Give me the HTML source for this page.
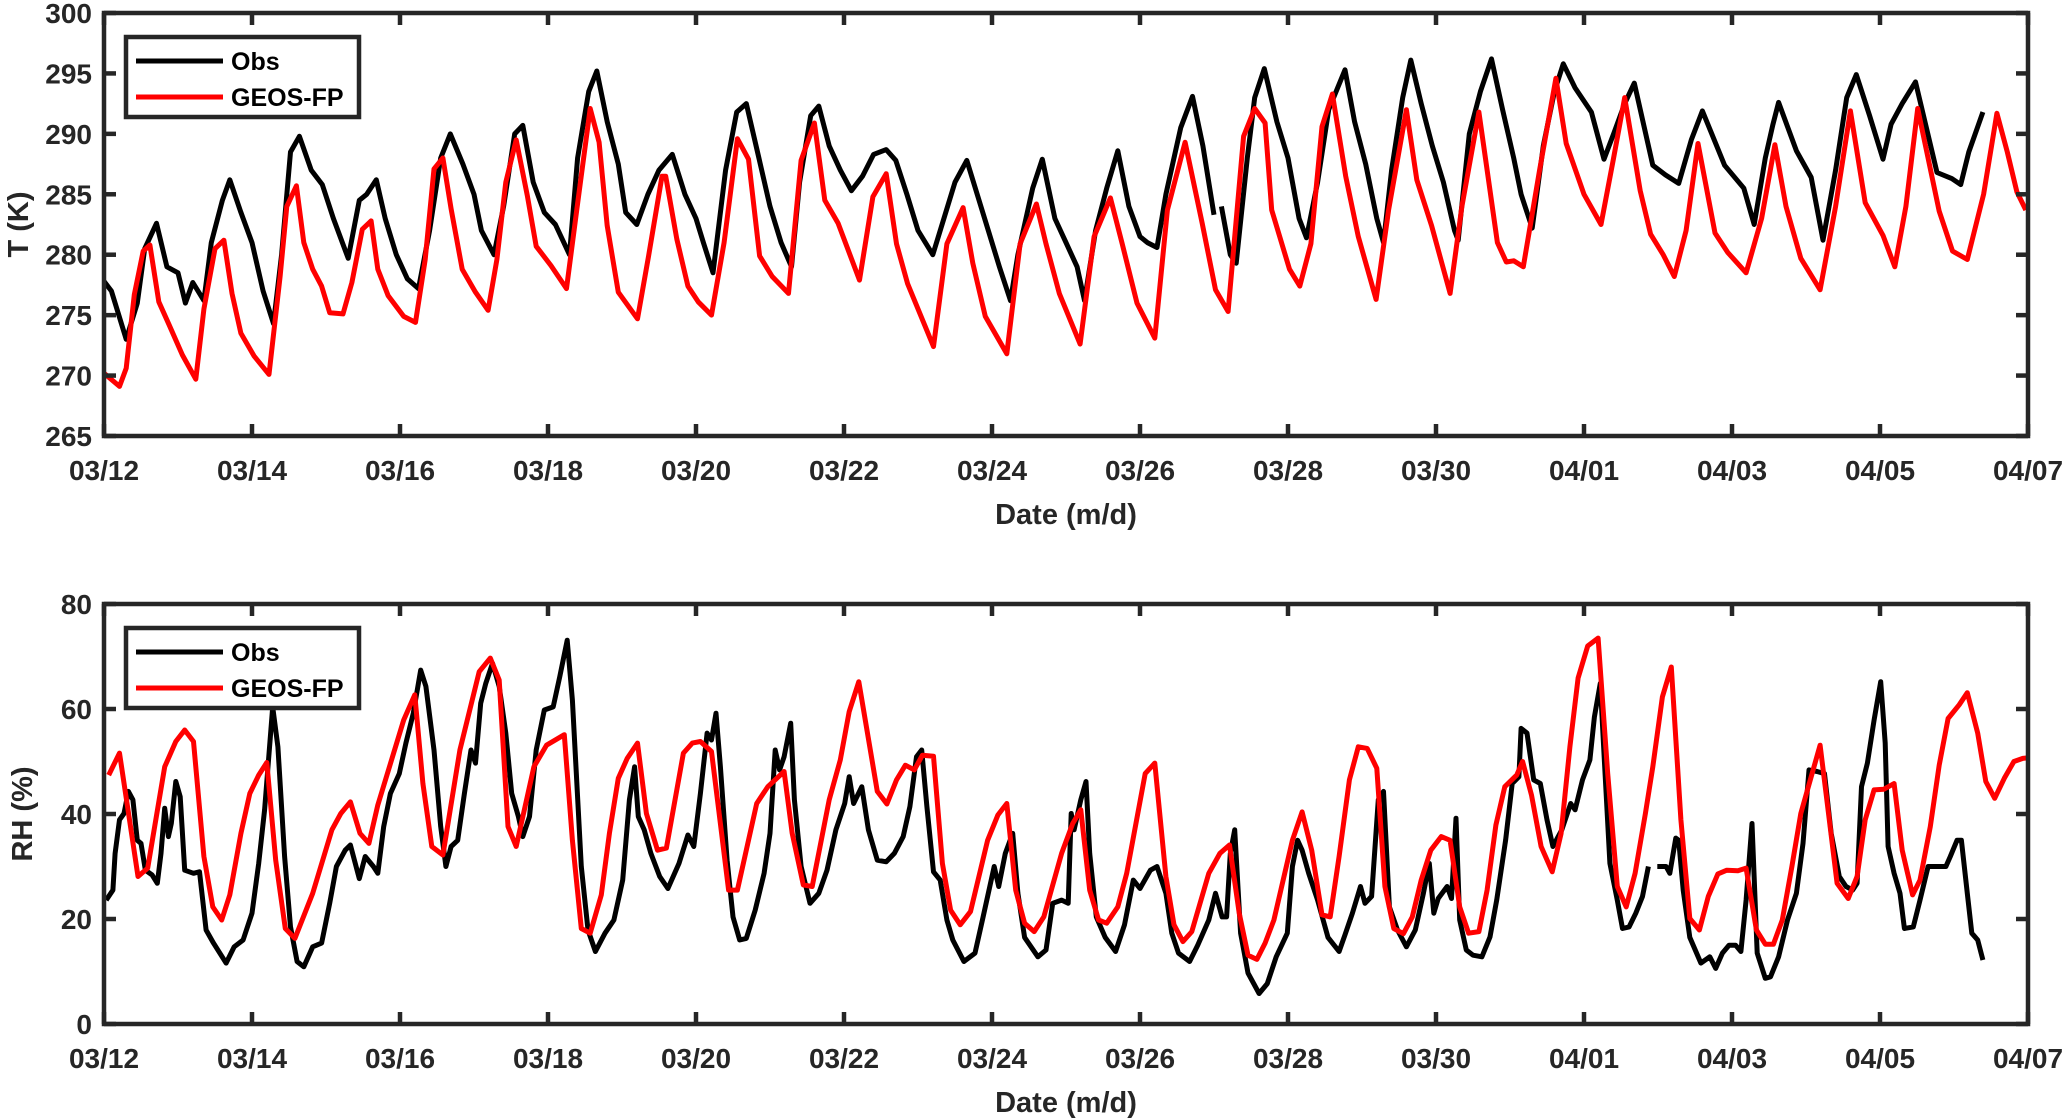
<!DOCTYPE html>
<html><head><meta charset="utf-8"><style>
html,body{margin:0;padding:0;background:#fff;}
svg{display:block;font-family:"Liberation Sans",Arial,sans-serif;font-weight:bold;}
</style></head><body>
<svg id="fig" width="2067" height="1120" viewBox="0 0 2067 1120" xmlns="http://www.w3.org/2000/svg"></svg>
<script>
const dateTicks=["03/12","03/14","03/16","03/18","03/20","03/22","03/24","03/26","03/28","03/30","04/01","04/03","04/05","04/07"];
const tTicks=[265,270,275,280,285,290,295,300];
const rhTicks=[0,20,40,60,80];

const obsTDays=[0,0.1,0.2,0.3,0.45,0.55,0.71,0.85,1.0,1.1,1.2,1.35,1.45,1.6,1.7,1.85,2.0,2.15,2.29,2.4,2.52,2.64,2.8,2.95,3.1,3.3,3.45,3.55,3.68,3.8,3.95,4.1,4.25,4.4,4.55,4.68,4.85,5.0,5.1,5.27,5.4,5.55,5.66,5.8,5.95,6.1,6.29,6.4,6.55,6.66,6.8,6.95,7.05,7.2,7.35,7.5,7.68,7.85,8.0,8.1,8.23,8.4,8.55,8.68,8.85,9.0,9.15,9.29,9.4,9.55,9.66,9.8,9.95,10.1,10.25,10.4,10.57,10.7,10.85,11.0,11.2,11.35,11.5,11.66,11.8,11.95,12.1,12.25,12.35,12.55,12.68,12.85,13.0,13.15,13.25,13.4,13.55,13.7,13.85,14.0,14.1,14.23,14.35,14.55,14.71,14.85,15.0,15.05,15.1,15.22,15.3,15.45,15.55,15.68,15.85,16.0,16.15,16.25,16.4,16.55,16.77,16.9,17.05,17.2,17.29,17.4,17.55,17.66,17.8,17.95,18.1,18.25,18.3,18.45,18.6,18.75,18.9,19.05,19.15,19.3,19.45,19.6,19.72,19.88,20.1,20.27,20.4,20.55,20.68,20.93,21.1,21.28,21.45,21.6,21.9,22.16,22.3,22.45,22.55,22.63,22.87,23.07,23.23,23.4,23.55,23.68,23.86,24.04,24.15,24.3,24.48,24.77,24.97,25.09,25.2,25.39];
const obsTVals=[277.8,277,275,273,276,280.5,282.6,279,278.5,276,277.7,276.2,281,284.5,286.2,283.5,281,277,274.3,280,288.5,289.8,287,285.8,283,279.7,284.5,285,286.2,283,280,278,277.2,282,288,290,287.5,285,282,280,284,290,290.7,286,283.5,282.5,280,288,293.5,295.2,291,287.5,283.5,282.5,285,287,288.3,285,283,281,278.5,287,291.8,292.5,288,284,281,279,286,291.5,292.3,289,287,285.3,286.5,288.3,288.7,287.8,285,282,280,283,286,287.8,285,282,279,276.2,280,285.5,287.9,283,281,279,276.2,282,285.5,288.6,284,281.5,281,280.6,285,290.5,293.1,289,283.3,null,284,280,279.3,288,293,295.4,291,288,283,281.4,286,292,295.3,291,287.5,283,281,287,293,296.1,292.5,289,286,282,281.2,290,293.5,296.2,292,288,285,282.2,289,293.5,295.8,293.8,291.8,287.9,290,292.5,294.2,287.4,286.6,285.9,289.5,291.9,287.4,285.5,282.5,288,290.7,292.6,288.6,286.4,281.2,287,293,294.9,291.5,287.9,290.8,292.5,294.3,286.8,286.3,285.8,288.5,291.8];

const fpTDays=[0,0.21,0.3,0.41,0.53,0.62,0.74,0.88,1.06,1.24,1.35,1.5,1.62,1.73,1.85,2.03,2.23,2.38,2.47,2.6,2.7,2.82,2.94,3.05,3.23,3.35,3.49,3.61,3.7,3.84,4.05,4.21,4.34,4.46,4.58,4.69,4.84,5.02,5.19,5.31,5.43,5.57,5.72,5.84,6.04,6.25,6.39,6.57,6.69,6.8,6.95,7.21,7.36,7.54,7.59,7.74,7.89,8.03,8.21,8.38,8.56,8.71,8.86,9.03,9.25,9.42,9.6,9.74,9.92,10.21,10.39,10.57,10.71,10.86,11.21,11.39,11.61,11.74,11.91,12.2,12.38,12.6,12.73,12.91,13.19,13.38,13.6,13.76,13.96,14.2,14.37,14.61,14.84,15.02,15.19,15.4,15.55,15.69,15.78,16.02,16.16,16.31,16.46,16.6,16.78,16.95,17.19,17.36,17.6,17.74,17.94,18.19,18.35,18.58,18.83,18.95,19.05,19.18,19.4,19.62,19.76,20.0,20.23,20.4,20.55,20.76,20.9,21.07,21.22,21.38,21.54,21.77,21.94,22.19,22.4,22.58,22.73,22.93,23.19,23.4,23.6,23.8,24.04,24.2,24.35,24.51,24.8,24.98,25.18,25.4,25.58,25.72,25.85,25.97];
const fpTVals=[270.2,269.1,270.6,276.7,280.3,280.8,276.1,274.2,271.7,269.7,275.5,280.5,281.2,276.8,273.5,271.6,270.1,278.2,284,285.7,281,278.8,277.4,275.2,275.1,277.7,282.1,282.8,278.8,276.6,274.9,274.4,279.6,287.1,288,283.8,278.8,276.9,275.4,279.6,286,289.5,284.9,280.7,279.1,277.2,283.8,292.1,289.3,282.4,276.9,274.7,279.9,286.5,286.5,281.3,277.4,276.1,275,281,289.6,287.9,279.9,278.2,276.8,287.8,290.9,284.5,282.6,277.9,284.8,286.7,280.9,277.6,272.4,280.9,283.9,279.3,274.9,271.8,280.9,284.2,280.9,276.8,272.6,281.5,284.7,280.9,276,273.1,283.7,289.3,282.6,277.1,275.3,289.8,292.1,290.9,283.7,278.8,277.4,280.9,290.6,293.3,286.5,281.5,276.3,283.7,292,286.2,282.4,276.8,284,291.8,281,279.4,279.5,279,287,294.6,289.2,285,282.5,288,293,285.3,281.7,280,278.2,282,289.2,281.8,280.2,278.5,283,289.1,284,279.7,277.1,284,291.9,284.3,281.6,279,284,292.1,283.6,280.3,279.6,285,291.7,288.5,285.2,283.7];

const obsRHDays=[0.03,0.12,0.15,0.21,0.27,0.33,0.39,0.45,0.5,0.56,0.65,0.72,0.77,0.82,0.87,0.91,0.97,1.03,1.09,1.21,1.29,1.38,1.48,1.65,1.76,1.88,2.0,2.09,2.17,2.28,2.35,2.44,2.52,2.61,2.7,2.82,2.94,3.05,3.14,3.26,3.33,3.45,3.53,3.64,3.7,3.78,3.87,3.99,4.08,4.18,4.28,4.35,4.46,4.55,4.62,4.69,4.78,4.87,4.96,5.02,5.09,5.16,5.25,5.34,5.43,5.51,5.6,5.66,5.75,5.84,5.95,6.07,6.16,6.26,6.33,6.45,6.54,6.64,6.77,6.89,7.01,7.1,7.17,7.22,7.3,7.39,7.51,7.62,7.77,7.89,7.97,8.06,8.15,8.21,8.27,8.33,8.42,8.5,8.59,8.68,8.8,8.92,9.0,9.07,9.13,9.19,9.28,9.33,9.42,9.54,9.66,9.77,9.89,10.01,10.07,10.13,10.24,10.33,10.45,10.57,10.68,10.8,10.89,10.98,11.05,11.12,11.21,11.3,11.39,11.47,11.62,11.77,11.88,11.97,12.03,12.09,12.18,12.28,12.35,12.44,12.62,12.73,12.82,12.94,13.03,13.07,13.11,13.2,13.27,13.32,13.41,13.53,13.67,13.79,13.91,14.0,14.14,14.23,14.35,14.43,14.52,14.67,14.78,14.93,15.02,15.11,15.17,15.22,15.28,15.36,15.46,15.61,15.72,15.84,15.99,16.06,16.13,16.19,16.28,16.4,16.54,16.69,16.77,16.87,16.98,17.04,17.13,17.22,17.29,17.37,17.48,17.6,17.72,17.83,17.91,17.97,18.03,18.15,18.21,18.27,18.32,18.41,18.5,18.62,18.73,18.82,18.94,19.03,19.12,19.15,19.23,19.32,19.41,19.5,19.58,19.7,19.82,19.88,19.98,20.08,20.14,20.22,20.28,20.35,20.45,20.52,20.61,20.7,20.79,20.87,20.93,20.99,21.11,21.16,21.24,21.28,21.34,21.43,21.58,21.7,21.78,21.87,21.96,22.05,22.12,22.19,22.27,22.34,22.45,22.52,22.63,22.75,22.87,22.96,23.04,23.15,23.25,23.34,23.45,23.54,23.63,23.69,23.75,23.83,23.92,24.01,24.07,24.11,24.19,24.27,24.33,24.45,24.54,24.65,24.8,24.89,24.95,25.04,25.1,25.18,25.24,25.32,25.39];
const obsRHVals=[23.6,25.5,32.5,38.9,40.1,44.3,42.7,35,34.4,29.3,28.4,26.8,32.5,41.1,35.7,38.2,46.2,43.3,29.3,28.7,29,17.9,15.4,11.6,14.7,16,21.1,30.6,40.8,60.4,52.8,31.9,18.5,11.9,10.9,14.7,15.4,23,30,33.1,34.1,27.7,31.9,30,28.7,37.6,43.9,47.7,53.5,59.2,67.4,64.3,52.2,37.6,30,33.8,35,43.9,52.2,49.7,61.1,64.9,68.7,64.3,55.4,43.9,39.5,35.7,39.5,52.2,59.8,60.4,66.2,73.1,61.7,30,17.9,13.8,17.3,19.8,27.4,42.7,49,39.5,37,32.5,28.1,25.8,30.6,36,33.8,43.9,55.4,54.1,59.2,49,31.2,20.4,16,16.3,21.7,28.7,36.3,52.2,48.4,50.9,57.3,42.7,30,23,24.9,29.3,37,42,47.1,42,45.2,37,31.2,30.9,32.5,35.7,41.4,50.9,52.2,41.4,29,27.4,19.8,16,11.9,13.5,20.4,26.2,30,26.2,32.5,36.3,24.9,16.5,12.8,14.1,23,23.6,23,40.1,37,42.7,46.2,32.5,20.4,16.5,13.8,18.9,27.4,25.8,29.3,30,24.9,17.3,13.5,11.9,15,19.8,24.9,20.4,20.4,32.5,37,17.3,9.7,5.8,7.7,12.8,17.3,30,35,33.1,28.7,23.6,16.5,13.8,17,21.1,26.2,23,24.3,42.7,44.3,22.3,17.9,14.7,17.9,24.9,30.6,21.1,23.9,26.2,23.9,39.2,19.8,14.1,13.1,12.8,16.6,23.6,35,45.8,47.1,56.3,55.4,46.5,45.8,38.9,33.8,37,42,40.8,46.5,50.3,58.5,64.9,49,30.6,23.6,18.2,18.5,21.1,24.3,30,null,30,30,28.7,35.4,35,25.5,16.5,11.6,12.8,10.6,13.5,15,15,13.8,23.6,38.2,13.5,8.7,9,12.8,19.8,24.9,34.4,48.4,48.1,47.7,36.3,28.1,26.2,25.5,26.8,45.2,49.7,57.9,65.2,53.5,33.8,28.7,24.9,18.2,18.5,23.6,30,30,30,31.9,35,35,24.9,17.3,16,12.2];

const fpRHDays=[0.063,0.21,0.46,0.59,0.82,0.97,1.09,1.21,1.35,1.47,1.59,1.7,1.85,1.97,2.09,2.2,2.32,2.45,2.58,2.82,3.08,3.2,3.33,3.46,3.58,3.7,4.05,4.2,4.31,4.43,4.58,4.81,5.07,5.22,5.34,5.46,5.57,5.81,5.98,6.22,6.33,6.45,6.57,6.72,6.83,6.95,7.07,7.21,7.33,7.48,7.6,7.83,7.95,8.06,8.21,8.44,8.56,8.82,8.97,9.19,9.3,9.45,9.57,9.8,9.95,10.07,10.2,10.45,10.58,10.71,10.83,10.95,11.06,11.21,11.33,11.44,11.57,11.71,11.94,12.08,12.2,12.32,12.44,12.57,12.7,12.94,13.09,13.2,13.32,13.44,13.55,13.7,13.82,14.07,14.2,14.35,14.46,14.58,14.7,14.93,15.08,15.21,15.34,15.46,15.58,15.69,15.81,16.06,16.19,16.32,16.46,16.57,16.69,16.83,16.95,17.07,17.2,17.31,17.43,17.56,17.68,17.8,17.93,18.07,18.19,18.32,18.44,18.58,18.69,18.81,18.93,19.09,19.17,19.29,19.42,19.57,19.69,19.81,19.92,20.05,20.19,20.32,20.45,20.57,20.69,20.83,20.93,21.06,21.18,21.31,21.43,21.56,21.68,21.81,21.93,22.08,22.19,22.33,22.45,22.56,22.68,22.81,22.93,23.07,23.19,23.31,23.42,23.57,23.69,23.8,23.92,24.05,24.19,24.3,24.44,24.54,24.68,24.8,24.92,25.07,25.18,25.32,25.43,25.55,25.68,25.81,25.93,26];
const fpRHVals=[47.4,51.6,28.1,29.7,49,53.8,56,53.8,31.9,22.3,19.8,24.6,36.3,43.9,47.4,49.8,31.2,18.2,16.3,24.9,37,40.1,42.3,36.3,34.4,41.7,57.9,62.7,45.8,33.8,32.2,52.2,67.1,69.7,65.5,37.6,33.8,49,53.1,55.1,35,18.2,17.3,24.6,36.3,46.8,50.6,53.5,40.1,33.1,33.5,51.6,53.5,53.8,51.9,25.5,25.5,42,45.2,48.1,36.3,26.5,26.2,42.7,50.3,59.5,65.2,44.3,41.9,46.5,49.3,48.4,51.2,51,30.6,21.7,18.9,21.4,35,39.8,42,25.5,19.2,17.6,20.4,32.5,38.2,40.8,25.5,19.8,19.2,22.3,28.7,47.7,49.7,28.1,18.9,15.7,17.6,28.7,32.5,34.1,21.1,13.1,12.3,15.4,19.8,35,40.4,33.1,20.8,20.4,31.9,46.5,52.8,52.5,48.7,26.2,18.2,17.2,20.4,27.4,33.1,35.7,35,22.3,17.3,17.6,25.5,37.9,45.2,47.4,50,43.6,33.8,29,36.3,52.8,65.9,72,73.5,47.7,26.2,22.3,28.7,40.1,49,62.3,68,38.9,20.1,17.9,24.3,28.6,29.3,29.2,29.7,17.9,15.2,15.2,19.8,30,40.1,47.1,53.1,39.5,26.8,23.9,28.1,38.9,44.6,44.7,45.8,33.1,24.6,27.4,37.6,49.3,58.2,60.8,63.1,55.4,46.2,43,46.8,50,50.6,50.7];

const NS="http://www.w3.org/2000/svg";
const svg=document.getElementById('fig');
function el(tag,attrs,parent){const e=document.createElementNS(NS,tag);for(const k in attrs)e.setAttribute(k,attrs[k]);(parent||svg).appendChild(e);return e;}
const X0=104,X1=2028,NDAYS=26;
function xScale(d){return X0+(X1-X0)*d/NDAYS;}
function makeY(vmin,vmax,top,bot){return v=>bot-(bot-top)*(v-vmin)/(vmax-vmin);}
function pathFrom(days,vals,ys){let d="",pen=false;for(let i=0;i<days.length;i++){if(vals[i]===null){pen=false;continue;}d+=(pen?"L":"M")+xScale(days[i]).toFixed(1)+","+ys(vals[i]).toFixed(1);pen=true;}return d;}

function panel(cfg){
  const g=el('g',{});
  
  
  const ys=makeY(cfg.vmin,cfg.vmax,cfg.top,cfg.bot);
  // series
  const p1=el('path',{d:pathFrom(cfg.obsD,cfg.obsV,ys),fill:'none',stroke:'#000','stroke-width':5,'stroke-linejoin':'round'},g);
  
  
  const p2=el('path',{d:pathFrom(cfg.fpD,cfg.fpV,ys),fill:'none',stroke:'#ff0000','stroke-width':5,'stroke-linejoin':'round'},g);
  
  
  // frame
  const fr=el('rect',{x:X0,y:cfg.top,width:X1-X0,height:cfg.bot-cfg.top,fill:'none',stroke:'#262626','stroke-width':4.5},g);
  
  
  // x ticks
  for(let i=0;i<dateTicks.length;i++){
    const x=xScale(i*2);
    el('line',{x1:x,y1:cfg.bot,x2:x,y2:cfg.bot-12,stroke:'#262626','stroke-width':4.5},g);
    el('line',{x1:x,y1:cfg.top,x2:x,y2:cfg.top+12,stroke:'#262626','stroke-width':4.5},g);
    const t=el('text',{x:x,y:cfg.bot+44,'text-anchor':'middle','font-size':28,fill:'#262626'},g);
    t.textContent=dateTicks[i];
    
    
  }
  for(const v of cfg.ticks){
    const y=ys(v);
    el('line',{x1:X0,y1:y,x2:X0+12,y2:y,stroke:'#262626','stroke-width':4.5},g);
    el('line',{x1:X1,y1:y,x2:X1-12,y2:y,stroke:'#262626','stroke-width':4.5},g);
    const t=el('text',{x:92,y:y+10,'text-anchor':'end','font-size':28,fill:'#262626'},g);
    t.textContent=v;
    
    
  }
  const xt=el('text',{x:1066,y:cfg.bot+88,'text-anchor':'middle','font-size':29,fill:'#262626'},g);
  xt.textContent='Date (m/d)';
  
  
  const cy=(cfg.top+cfg.bot)/2;
  const yt=el('text',{x:0,y:0,'text-anchor':'middle','font-size':29,fill:'#262626',transform:`translate(${cfg.ytx},${cy}) rotate(-90)`},g);
  yt.textContent=cfg.ylabel;
  
  
  // legend
  const lg=el('g',{},g);
  
  
  const ly=cfg.top+24;
  el('rect',{x:126,y:ly,width:233,height:80,fill:'#fff',stroke:'#262626','stroke-width':4.5},lg);
  el('line',{x1:136,y1:ly+24,x2:223,y2:ly+24,stroke:'#000','stroke-width':5},lg);
  el('line',{x1:136,y1:ly+60,x2:223,y2:ly+60,stroke:'#ff0000','stroke-width':5},lg);
  const a=el('text',{x:231,y:ly+33,'font-size':25,fill:'#000'},lg);a.textContent='Obs';
  
  
  const b=el('text',{x:231,y:ly+69,'font-size':25,fill:'#000'},lg);b.textContent='GEOS-FP';
  
  
}
panel({name:'temperature-panel',prefix:'t',vmin:265,vmax:300,top:13,bot:436,ticks:tTicks,obsD:obsTDays,obsV:obsTVals,fpD:fpTDays,fpV:fpTVals,ylabel:'T (K)',ytx:28});
panel({name:'rh-panel',prefix:'rh',vmin:0,vmax:80,top:604,bot:1024,ticks:rhTicks,obsD:obsRHDays,obsV:obsRHVals,fpD:fpRHDays,fpV:fpRHVals,ylabel:'RH (%)',ytx:32});
</script>
</body></html>
